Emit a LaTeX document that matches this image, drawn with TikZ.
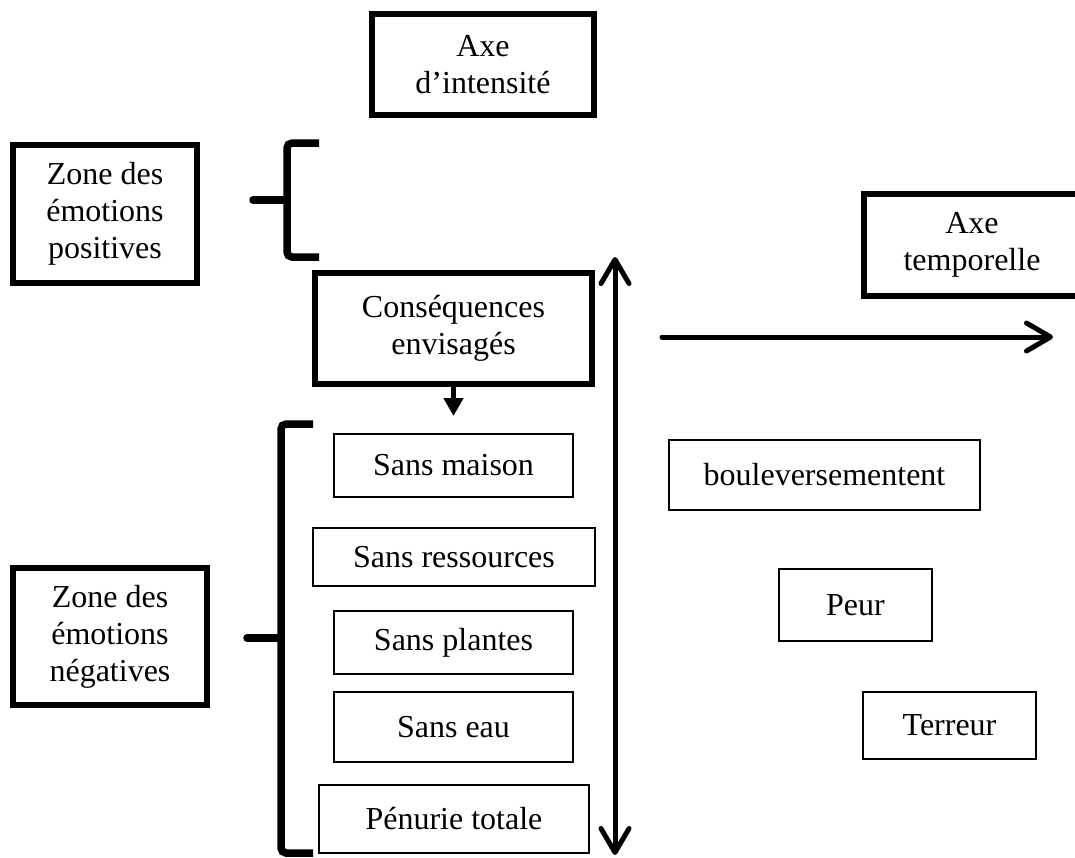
\documentclass[tikz,border=0pt]{standalone}
\usepackage{fontspec}
\setmainfont{Liberation Serif}
\usetikzlibrary{arrows.meta}
\tikzset{
  every node/.style={font=\fontsize{32}{37}\selectfont, inner sep=0pt, outer sep=0pt, align=center},
  thickbox/.style={draw, line width=5.5pt},
  thinbox/.style={draw, line width=1.7pt},
  bracketline/.style={line width=7.5pt, rounded corners=5pt},
  bracketbar/.style={line width=7.5pt, line cap=round},
  axisline/.style={line width=5pt, line cap=round, line join=round},
  barbtip/.tip={Straight Barb[length=24pt, width=28pt, line cap=round, line join=round]},
}
\begin{document}
\begin{tikzpicture}[x=1pt,y=-1pt]
\useasboundingbox (0,0) rectangle (1075,857);
\clip (0,0) rectangle (1075,857);

% thick boxes
\node[thickbox, minimum width=222pt, minimum height=101pt] (axeI) at (483,64.5) {Axe\\d’intensité};
\node[thickbox, minimum width=184pt, minimum height=138pt] (pos) at (105,214) {Zone des\\émotions\\positives};
\node[thickbox, minimum width=194pt, minimum height=137pt] (neg) at (110,636.5) {Zone des\\émotions\\négatives};
\node[thickbox, minimum width=277pt, minimum height=111pt] (cons) at (453.5,328.5) {Conséquences\\envisagés};
\node[thickbox, minimum width=216pt, minimum height=102pt] (axeT) at (972,245) {Axe\\temporelle};

% thin boxes
\node[thinbox, minimum width=239pt, minimum height=63pt] (maison) at (453.5,465.5) {Sans maison};
\node[thinbox, minimum width=282pt, minimum height=58pt] (ress) at (454,557) {Sans ressources};
\node[thinbox, minimum width=239pt, minimum height=63pt] (plantes) at (453.5,642.5) {Sans plantes};
\node[thinbox, minimum width=239pt, minimum height=70pt] (eau) at (453.5,727) {Sans eau};
\node[thinbox, minimum width=270pt, minimum height=68pt] (penurie) at (454,819) {Pénurie totale};
\node[thinbox, minimum width=311pt, minimum height=70pt] (boul) at (824.5,475) {bouleversementent};
\node[thinbox, minimum width=153pt, minimum height=72pt] (peur) at (855.5,605) {Peur};
\node[thinbox, minimum width=173pt, minimum height=67pt] (terreur) at (949.5,725.5) {Terreur};

% positive bracket
\coordinate (pTop) at (319,143);
\coordinate (pBot) at (319,257);
\coordinate (pMid) at (287,200);
\coordinate (pBar) at (253,200);
\draw[bracketline] (pTop) -- (287,143) -- (287,257) -- (pBot);
\draw[bracketbar] (pBar) -- (pMid);

% negative bracket
\coordinate (nTop) at (313,424);
\coordinate (nBot) at (313,853);
\coordinate (nMid) at (281,638);
\coordinate (nBar) at (247,638);
\draw[bracketline] (nTop) -- (281,424) -- (281,853) -- (nBot);
\draw[bracketbar] (nBar) -- (nMid);

% intensity axis (double arrow)
\coordinate (iTop) at (615,257);
\coordinate (iBot) at (615,855);
\draw[axisline, barbtip-barbtip] (iTop) -- (iBot);

% time axis
\coordinate (tStart) at (662,337);
\coordinate (tEnd) at (1053,337);
\draw[axisline, -barbtip] (tStart) -- (tEnd);

% small arrow below Conséquences
\coordinate (consTip) at (453.5,416);
\draw[line width=5pt, -{Triangle[length=18pt, width=19pt]}] (cons.south) -- (consTip);
\end{tikzpicture}
\end{document}
